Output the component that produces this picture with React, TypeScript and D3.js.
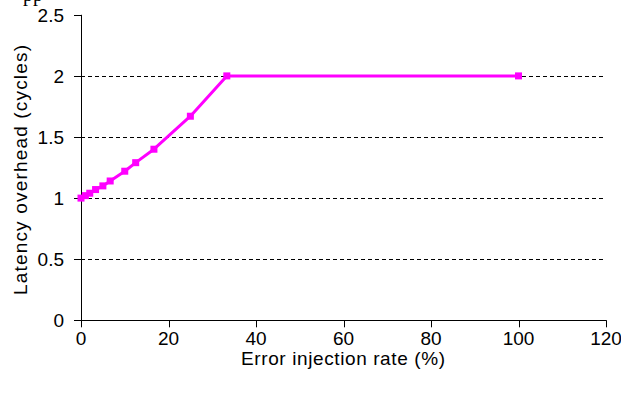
import React from "react";
import * as d3 from "d3";

const rates = [0, 1, 2, 3.33, 5, 6.67, 10, 12.5, 16.67, 25, 33.33, 100];
const overhead = [1, 1.02, 1.04, 1.07, 1.1, 1.14, 1.22, 1.29, 1.4, 1.67, 2, 2];
const xTicks = [0, 20, 40, 60, 80, 100, 120];
const yTicks = [0, 0.5, 1, 1.5, 2, 2.5];
const gridValues = [0.5, 1, 1.5, 2];
const xTitle = "Error injection rate (%)";
const yTitle = "Latency overhead (cycles)";

const W = 621;
const H = 396;
const FONT = "'Liberation Sans', Arial, sans-serif";

export default function App() {
  const x = d3.scaleLinear().domain([0, 120]).range([81, 606]);
  const y = d3.scaleLinear().domain([0, 2.5]).range([320.3, 14.8]);
  const pts = rates.map((r, i) => [r, overhead[i]] as [number, number]);
  const line = d3
    .line<[number, number]>()
    .x((d) => x(d[0]))
    .y((d) => y(d[1]));
  const fmt = (v: number) => String(v);

  return (
    <svg
      width={W}
      height={H}
      style={{ position: "absolute", left: 0, top: 0, background: "#fff" }}
    >
      <rect x={0} y={0} width={W} height={H} fill="#fff" />
      <text x={23} y={0.5} fontFamily="'Liberation Serif', 'Times New Roman', serif" fontSize={20} fill="#000">
        pp
      </text>
      {gridValues.map((g) => (
        <line
          key={g}
          x1={x(0)}
          x2={x(120)}
          y1={Math.round(y(g)) + 0.5}
          y2={Math.round(y(g)) + 0.5}
          stroke="#000"
          strokeWidth={1}
          strokeDasharray="4,3"
        />
      ))}
      {/* y axis */}
      <line x1={x(0) + 0.5} x2={x(0) + 0.5} y1={y(2.5)} y2={y(0)} stroke="#000" strokeWidth={1} />
      {yTicks.map((t) => (
        <g key={t}>
          <line
            x1={x(0) - 7}
            x2={x(0)}
            y1={Math.round(y(t)) + 0.5}
            y2={Math.round(y(t)) + 0.5}
            stroke="#000"
          />
          <text
            x={64}
            y={y(t) + 7}
            textAnchor="end"
            fontFamily={FONT}
            fontSize={19}
            fill="#000"
          >
            {fmt(t)}
          </text>
        </g>
      ))}
      {/* x axis */}
      <line x1={x(0)} x2={x(120) + 0.5} y1={Math.round(y(0)) + 0.5} y2={Math.round(y(0)) + 0.5} stroke="#000" />
      {xTicks.map((t) => (
        <g key={t}>
          <line
            x1={Math.round(x(t)) + 0.5}
            x2={Math.round(x(t)) + 0.5}
            y1={y(0)}
            y2={y(0) + 7}
            stroke="#000"
          />
          <text
            x={x(t)}
            y={345}
            textAnchor="middle"
            fontFamily={FONT}
            fontSize={19}
            fill="#000"
          >
            {fmt(t)}
          </text>
        </g>
      ))}
      <text
        x={343}
        y={365}
        textAnchor="middle"
        fontFamily={FONT}
        fontSize={19}
        fill="#000"
        textLength={204}
        lengthAdjust="spacing"
      >
        {xTitle}
      </text>
      <text
        transform={`translate(27,170) rotate(-90)`}
        textAnchor="middle"
        fontFamily={FONT}
        fontSize={19}
        fill="#000"
        textLength={250}
        lengthAdjust="spacing"
      >
        {yTitle}
      </text>
      {/* data */}
      <path d={line(pts) || ""} fill="none" stroke="#FF00FF" strokeWidth={3} strokeLinejoin="round" />
      {pts.map((p, i) => (
        <rect
          key={i}
          x={x(p[0]) - 3.5}
          y={y(p[1]) - 3.5}
          width={7}
          height={7}
          fill="#FF00FF"
        />
      ))}
    </svg>
  );
}
